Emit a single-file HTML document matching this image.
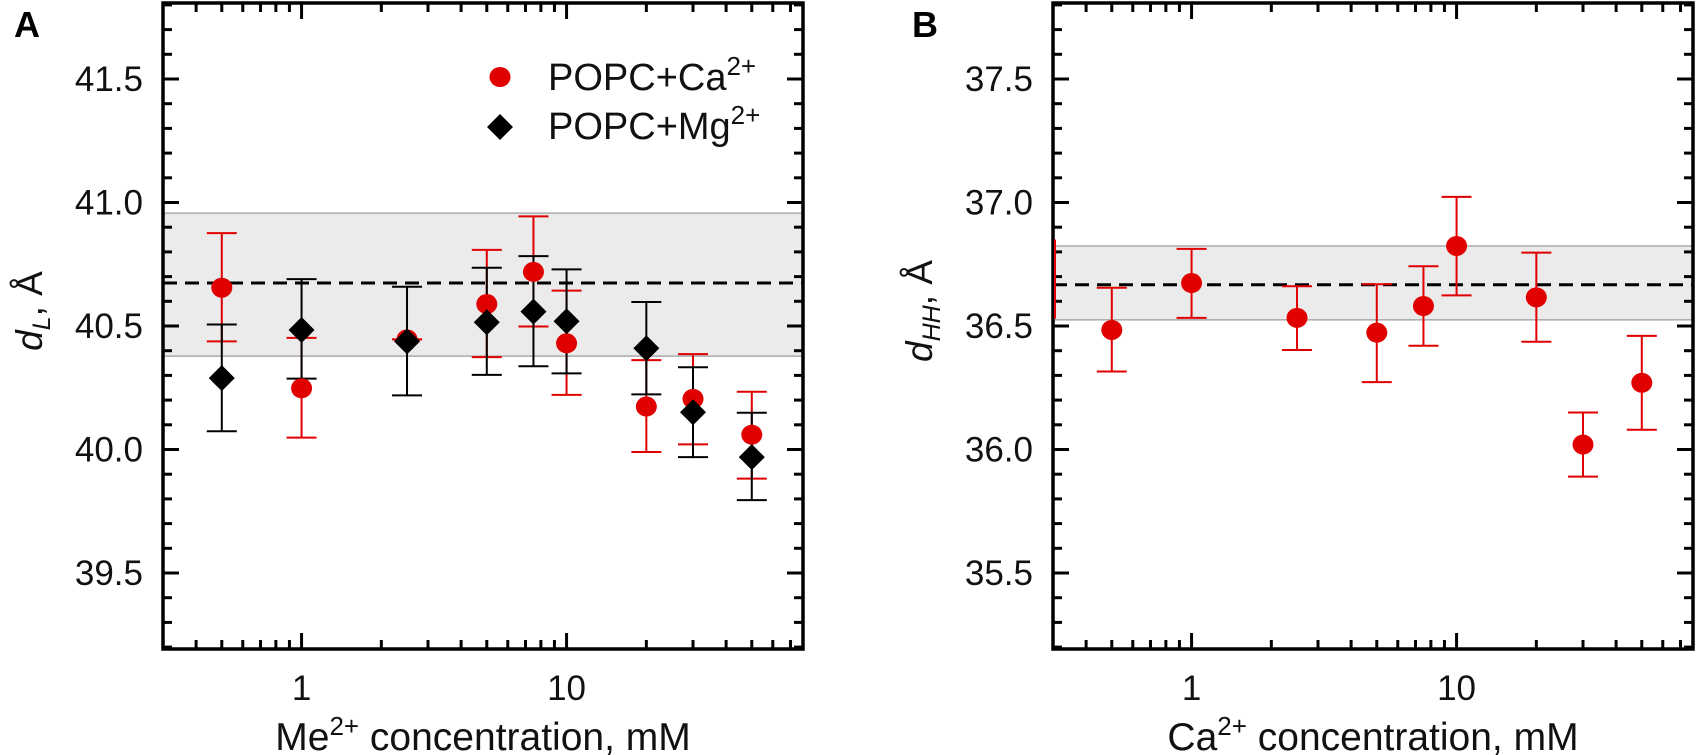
<!DOCTYPE html>
<html><head><meta charset="utf-8"><style>
html,body{margin:0;padding:0;background:#fff;}
svg{display:block;font-family:"Liberation Sans",Arial,sans-serif;}
</style></head><body>
<svg id="fig" width="1703" height="755" viewBox="0 0 1703 755"></svg>
<script>
// Panel A data
const concA = [0.5, 1, 2.5, 5, 7.5, 10, 20, 30, 50];
const caA = [40.655, 40.248, 40.446, 40.589, 40.719, 40.43, 40.174, 40.205, 40.06];
const caAHi = [40.876, 40.452, 40.446, 40.808, 40.944, 40.643, 40.362, 40.386, 40.234];
const caALo = [40.438, 40.048, 40.446, 40.374, 40.498, 40.221, 39.99, 40.021, 39.882];
const mgA = [40.289, 40.484, 40.438, 40.515, 40.558, 40.519, 40.41, 40.151, 39.969];
const mgAHi = [40.506, 40.69, 40.659, 40.736, 40.783, 40.729, 40.597, 40.333, 40.149];
const mgALo = [40.074, 40.287, 40.219, 40.302, 40.337, 40.308, 40.223, 39.969, 39.795];
const meanA = [40.674, 40.378, 40.957]; // mean, band low, band high
const yTicksA = ["39.5", "40.0", "40.5", "41.0", "41.5"];
// Panel B data
const concB = [0.5, 1, 2.5, 5, 7.5, 10, 20, 30, 50];
const caB = [36.484, 36.674, 36.533, 36.473, 36.581, 36.824, 36.616, 36.02, 36.27];
const caBHi = [36.655, 36.812, 36.661, 36.669, 36.742, 37.023, 36.797, 36.15, 36.46];
const caBLo = [36.316, 36.533, 36.403, 36.273, 36.42, 36.624, 36.436, 35.89, 36.08];
const meanB = [36.667, 36.525, 36.824];
const yTicksB = ["35.5", "36.0", "36.5", "37.0", "37.5"];
const xTickLabels = ["1", "10"];

const NS = "http://www.w3.org/2000/svg";
const svg = document.getElementById('fig');
function mk(tag, attrs, parent, text) {
  const e = document.createElementNS(NS, tag);
  for (const k in attrs) e.setAttribute(k, attrs[k]);
  if (text !== undefined) e.textContent = text;
  (parent || svg).appendChild(e);
  return e;
}

function panel(cfg) {
  const L = cfg.left, R = cfg.left + 640, T = 3, B = 649;
  const D = 265;
  const x = c => L + (Math.log10(c) - Math.log10(0.3)) * D;
  const y = v => 573 - (v - cfg.base) * 247;
  const g = mk('g', {});
  
  
  const band = mk('rect', {x: L, y: y(cfg.mean[2]), width: R - L, height: y(cfg.mean[1]) - y(cfg.mean[2]), fill: '#ebebeb', stroke: '#aaa', 'stroke-width': 1.5}, g);
  
  
  const ml = mk('line', {x1: L, x2: R, y1: y(cfg.mean[0]), y2: y(cfg.mean[0]), stroke: '#000', 'stroke-width': 3, 'stroke-dasharray': '14,8'}, g);
  
  
  for (let i = 0; i <= 26; i++) {
    const v = cfg.base - 0.3 + i * 0.1;
    const yy = y(v);
    const major = Math.abs(((v - cfg.base) / 0.5) - Math.round((v - cfg.base) / 0.5)) < 1e-6;
    const len = major ? 16 : 9;
    mk('line', {x1: L, x2: L + len, y1: yy, y2: yy, stroke: '#000', 'stroke-width': 3}, g);
    mk('line', {x1: R, x2: R - len, y1: yy, y2: yy, stroke: '#000', 'stroke-width': 3}, g);
  }
  cfg.yTicks.forEach(t => {
    const tl = mk('text', {x: L - 20, y: y(parseFloat(t)) + 12, 'font-size': 35, 'text-anchor': 'end', fill: '#111'}, g, t);
    
    
  });
  for (let dec = -1; dec <= 1; dec++) {
    for (let m = 1; m <= 9; m++) {
      const c = m * Math.pow(10, dec);
      if (c < 0.3 || c > 75) continue;
      const xx = x(c);
      const len = m === 1 ? 16 : 9;
      mk('line', {x1: xx, x2: xx, y1: B, y2: B - len, stroke: '#000', 'stroke-width': 3}, g);
      mk('line', {x1: xx, x2: xx, y1: T, y2: T + len, stroke: '#000', 'stroke-width': 3}, g);
    }
  }
  xTickLabels.forEach(t => {
    const tl = mk('text', {x: x(parseFloat(t)), y: 700, 'font-size': 35, 'text-anchor': 'middle', fill: '#111'}, g, t);
    
    
  });
  const fr = mk('rect', {x: L, y: T, width: R - L, height: B - T, fill: 'none', stroke: '#000', 'stroke-width': 3.5}, g);
  
  
  cfg.series.forEach(s => {
    s.c.forEach((c, i) => {
      const xx = x(c);
      const eb = mk('g', {stroke: s.col, 'stroke-width': 2}, g);
      
      
      mk('line', {x1: xx, x2: xx, y1: y(s.hi[i]), y2: y(s.lo[i])}, eb);
      mk('line', {x1: xx - 15, x2: xx + 15, y1: y(s.hi[i]), y2: y(s.hi[i])}, eb);
      mk('line', {x1: xx - 15, x2: xx + 15, y1: y(s.lo[i]), y2: y(s.lo[i])}, eb);
    });
  });
  cfg.series.forEach(s => {
    s.c.forEach((c, i) => {
      const xx = x(c), yy = y(s.v[i]);
      let m;
      if (s.shape === 'circle') m = mk('ellipse', {cx: xx, cy: yy, rx: 10.5, ry: 10, fill: s.col}, g);
      else m = mk('polygon', {points: `${xx},${yy-13} ${xx+13},${yy} ${xx},${yy+13} ${xx-13},${yy}`, fill: s.col}, g);
      
      
    });
  });
  return {x, y, L, R};
}

const pA = panel({name: 'panel-a', left: 163, base: 39.5, mean: meanA, yTicks: yTicksA,
  series: [
    {c: concA, v: caA, hi: caAHi, lo: caALo, col: '#e00000', shape: 'circle', mark: 'point-ca'},
    {c: concA, v: mgA, hi: mgAHi, lo: mgALo, col: '#000', shape: 'diamond', mark: 'point-mg'}
  ]});
const pB = panel({name: 'panel-b', left: 1053, base: 35.5, mean: meanB, yTicks: yTicksB,
  series: [
    {c: concB, v: caB, hi: caBHi, lo: caBLo, col: '#e00000', shape: 'circle', mark: 'point-ca'}
  ]});
mk('line', {x1: 1055, x2: 1055, y1: pB.y(36.85), y2: pB.y(36.53), stroke: '#e00000', 'stroke-width': 2});
</script>
<svg width="1703" height="755" style="position:absolute;left:0;top:0">
  <text x="14" y="37" font-size="36" font-weight="bold" font-family="Liberation Sans, sans-serif">A</text>
  <text x="912" y="37" font-size="36" font-weight="bold" font-family="Liberation Sans, sans-serif">B</text>
  <text transform="translate(42,311) rotate(-90)" text-anchor="middle" font-size="37" fill="#111" font-family="Liberation Sans, sans-serif"><tspan font-style="italic">d</tspan><tspan font-style="italic" font-size="25" dy="8">L</tspan><tspan dy="-8">, Å</tspan></text>
  <text transform="translate(932,311) rotate(-90)" text-anchor="middle" font-size="37" fill="#111" font-family="Liberation Sans, sans-serif"><tspan font-style="italic">d</tspan><tspan font-style="italic" font-size="25" dy="8">HH</tspan><tspan dy="-8">, Å</tspan></text>
  <text x="483" y="750" text-anchor="middle" font-size="39" fill="#111" font-family="Liberation Sans, sans-serif">Me<tspan font-size="26" dy="-15">2+</tspan><tspan dy="15"> concentration, mM</tspan></text>
  <text x="1373" y="750" text-anchor="middle" font-size="39" fill="#111" font-family="Liberation Sans, sans-serif">Ca<tspan font-size="26" dy="-15">2+</tspan><tspan dy="15"> concentration, mM</tspan></text>
  <g>
    <ellipse cx="500" cy="77" rx="10.5" ry="10" fill="#e00000"/>
    <text x="548" y="90" font-size="38" fill="#111" font-family="Liberation Sans, sans-serif">POPC+Ca<tspan font-size="26" dy="-15">2+</tspan></text>
    <polygon points="500,114 513,127 500,140 487,127" fill="#000"/>
    <text x="548" y="139" font-size="38" fill="#111" font-family="Liberation Sans, sans-serif">POPC+Mg<tspan font-size="26" dy="-15">2+</tspan></text>
  </g>
</svg>
</body></html>
